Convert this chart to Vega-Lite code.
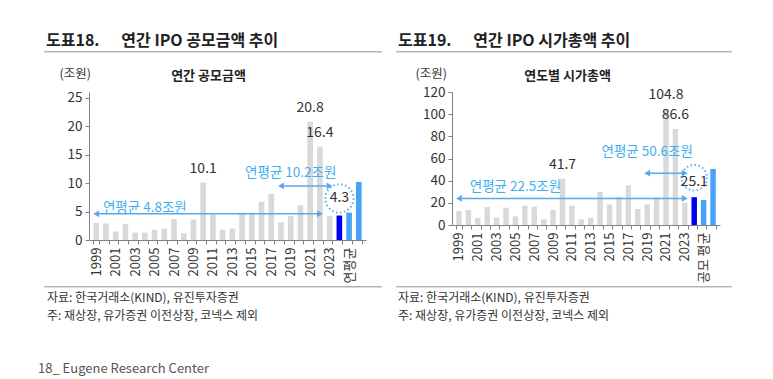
{
  "$schema": "https://vega.github.io/schema/vega-lite/v6.json",
  "padding": {"left": 38, "top": 32, "right": 5, "bottom": 0},
  "config": {
    "font": "Noto Sans CJK KR",
    "view": {"stroke": null},
    "axis": {"labelColor": "#333", "domainColor": "#808080", "tickColor": "#808080", "grid": false, "labelFont": "Noto Sans CJK KR"}
  },
  "title": {"text": "18_ Eugene Research Center", "orient": "bottom", "anchor": "start", "frame": "bounds", "fontSize": 13, "fontWeight": "normal", "color": "#555", "offset": 41},
  "datasets": {
    "ipo": [
      {"year": "1999", "value": 3.0, "kind": "연도"},
      {"year": "2000", "value": 2.9, "kind": "연도"},
      {"year": "2001", "value": 1.5, "kind": "연도"},
      {"year": "2002", "value": 2.8, "kind": "연도"},
      {"year": "2003", "value": 1.3, "kind": "연도"},
      {"year": "2004", "value": 1.3, "kind": "연도"},
      {"year": "2005", "value": 1.8, "kind": "연도"},
      {"year": "2006", "value": 2.0, "kind": "연도"},
      {"year": "2007", "value": 3.7, "kind": "연도"},
      {"year": "2008", "value": 1.2, "kind": "연도"},
      {"year": "2009", "value": 3.6, "kind": "연도"},
      {"year": "2010", "value": 10.1, "kind": "연도"},
      {"year": "2011", "value": 4.5, "kind": "연도"},
      {"year": "2012", "value": 1.8, "kind": "연도"},
      {"year": "2013", "value": 2.0, "kind": "연도"},
      {"year": "2014", "value": 4.8, "kind": "연도"},
      {"year": "2015", "value": 4.8, "kind": "연도"},
      {"year": "2016", "value": 6.7, "kind": "연도"},
      {"year": "2017", "value": 8.1, "kind": "연도"},
      {"year": "2018", "value": 3.1, "kind": "연도"},
      {"year": "2019", "value": 4.2, "kind": "연도"},
      {"year": "2020", "value": 6.1, "kind": "연도"},
      {"year": "2021", "value": 20.8, "kind": "연도"},
      {"year": "2022", "value": 16.4, "kind": "연도"},
      {"year": "2023", "value": 4.2, "kind": "연도"},
      {"year": "2024", "value": 4.3, "kind": "2024"},
      {"year": "연평균", "value": 4.8, "kind": "평균"},
      {"year": "최근5년", "value": 10.2, "kind": "평균"}
    ],
    "mcap": [
      {"year": "1999", "value": 12.6, "kind": "연도"},
      {"year": "2000", "value": 13.5, "kind": "연도"},
      {"year": "2001", "value": 6.3, "kind": "연도"},
      {"year": "2002", "value": 16.2, "kind": "연도"},
      {"year": "2003", "value": 6.9, "kind": "연도"},
      {"year": "2004", "value": 15.6, "kind": "연도"},
      {"year": "2005", "value": 7.8, "kind": "연도"},
      {"year": "2006", "value": 17.4, "kind": "연도"},
      {"year": "2007", "value": 16.5, "kind": "연도"},
      {"year": "2008", "value": 5.1, "kind": "연도"},
      {"year": "2009", "value": 13.8, "kind": "연도"},
      {"year": "2010", "value": 41.7, "kind": "연도"},
      {"year": "2011", "value": 17.4, "kind": "연도"},
      {"year": "2012", "value": 5.1, "kind": "연도"},
      {"year": "2013", "value": 6.6, "kind": "연도"},
      {"year": "2014", "value": 29.7, "kind": "연도"},
      {"year": "2015", "value": 18.6, "kind": "연도"},
      {"year": "2016", "value": 25.5, "kind": "연도"},
      {"year": "2017", "value": 35.7, "kind": "연도"},
      {"year": "2018", "value": 14.4, "kind": "연도"},
      {"year": "2019", "value": 18.6, "kind": "연도"},
      {"year": "2020", "value": 24.9, "kind": "연도"},
      {"year": "2021", "value": 104.8, "kind": "연도"},
      {"year": "2022", "value": 86.6, "kind": "연도"},
      {"year": "2023", "value": 20.1, "kind": "연도"},
      {"year": "2024", "value": 25.1, "kind": "2024"},
      {"year": "공모 평균", "value": 22.5, "kind": "평균"},
      {"year": "최근5년", "value": 50.6, "kind": "평균"}
    ],
    "ipoLabels": [
      {"year": "2010", "value": 10.1, "text": "10.1"},
      {"year": "2021", "value": 20.8, "text": "20.8"},
      {"year": "2022", "value": 16.4, "text": "16.4"}
    ],
    "mcapLabels": [
      {"year": "2010", "value": 41.7, "text": "41.7"},
      {"year": "2021", "value": 104.8, "text": "104.8"},
      {"year": "2022", "value": 86.6, "text": "86.6"}
    ],
    "ipoCircle": [{"year": "2024", "y": 7.3, "text": "4.3"}],
    "mcapCircle": [{"year": "2024", "y": 42.7, "text": "25.1"}],
    "ipoArrows": [
      {"from": "1999", "to": "2022", "y": 4.6},
      {"from": "2018", "to": "2023", "y": 9.5}
    ],
    "mcapArrows": [
      {"from": "1999", "to": "2023", "y": 24.0},
      {"from": "2019", "to": "2023", "y": 46.8}
    ],
    "ipoNotes": [
      {"year": "2004", "y": 5.7, "text": "연평균 4.8조원"},
      {"year": "2019", "y": 11.8, "text": "연평균 10.2조원"}
    ],
    "mcapNotes": [
      {"year": "2005", "y": 34.0, "text": "연평균 22.5조원"},
      {"year": "2019", "y": 66.0, "text": "연평균 50.6조원"}
    ]
  },
  "spacing": 0,
  "vconcat": [
    {
      "spacing": 12,
      "vconcat": [
        {
          "spacing": 13,
          "hconcat": [
            {
              "width": 337, "height": 0.5,
              "view": {"stroke": "#b4b4b4", "strokeWidth": 1},
              "data": {"values": [{}]},
              "mark": {"type": "point", "opacity": 0},
              "encoding": {},
              "title": {"text": "도표18.\u00a0\u00a0\u00a0\u00a0\u00a0 연간 IPO 공모금액 추이", "anchor": "start", "frame": "group", "fontSize": 16, "fontWeight": "bold", "color": "#222", "offset": 0, "dx": 2}
            },
            {
              "width": 335, "height": 0.5,
              "view": {"stroke": "#b4b4b4", "strokeWidth": 1},
              "data": {"values": [{}]},
              "mark": {"type": "point", "opacity": 0},
              "encoding": {},
              "title": {"text": "도표19.\u00a0\u00a0\u00a0\u00a0\u00a0 연간 IPO 시가총액 추이", "anchor": "start", "frame": "group", "fontSize": 16, "fontWeight": "bold", "color": "#222", "offset": 0, "dx": 2}
            }
          ]
        },
        {
          "spacing": 28,
          "hconcat": [
            {
              "width": 322, "height": 148,
              "resolve": {"axis": {"x": "independent", "y": "independent"}},
              "layer": [
                {
                  "data": {"name": "ipo"},
                  "mark": {"type": "bar"},
                  "encoding": {
                    "x": {"field": "year", "type": "ordinal",
                      "scale": {"domain": ["1999","2000","2001","2002","2003","2004","2005","2006","2007","2008","2009","2010","2011","2012","2013","2014","2015","2016","2017","2018","2019","2020","2021","2022","2023","2024","연평균","최근5년"], "range": [45, 322], "paddingInner": 0.42, "paddingOuter": 0.45},
                      "axis": {"title": null, "labelAngle": -90, "labelAlign": "right", "labelBaseline": "middle", "labelFontSize": 13, "labelPadding": 3, "tickBand": "extent", "tickSize": 4, "labelOverlap": false,
                        "labelExpr": "isNaN(toNumber(datum.value)) ? (datum.value == '최근5년' ? '' : datum.label) : (toNumber(datum.value) % 2 == 1 ? datum.label : '')"}},
                    "y": {"field": "value", "type": "quantitative", "scale": {"domain": [0, 25]},
                      "axis": {"values": [0, 5, 10, 15, 20, 25], "offset": -45, "title": "(조원)", "titleAngle": 0, "titleAlign": "left", "titleBaseline": "middle", "titleX": -30, "titleY": -19, "titleFontSize": 12.5, "titleFontWeight": "normal", "titleColor": "#333", "labelFontSize": 13.5, "tickSize": 4, "labelPadding": 3}},
                    "color": {"field": "kind", "type": "nominal", "scale": {"domain": ["연도", "2024", "평균"], "range": ["#d9d9d9", "#0000ee", "#47a3f7"]}, "legend": null}
                  }
                },
                {
                  "data": {"name": "ipoCircle"},
                  "mark": {"type": "point", "shape": "circle", "size": 800, "filled": true, "fill": "white", "fillOpacity": 1, "stroke": "#5ab0f0", "strokeOpacity": 1, "strokeWidth": 2, "strokeDash": [1.5, 2.5]},
                  "encoding": {"x": {"field": "year", "type": "ordinal", "axis": null}, "y": {"field": "y", "type": "quantitative", "axis": null}}
                },
                {
                  "data": {"name": "ipoCircle"},
                  "mark": {"type": "text", "fontSize": 14, "color": "#333", "baseline": "middle"},
                  "encoding": {"x": {"field": "year", "type": "ordinal", "axis": null}, "y": {"field": "y", "type": "quantitative", "axis": null}, "text": {"field": "text"}}
                },
                {
                  "data": {"name": "ipoArrows"},
                  "mark": {"type": "rule", "color": "#5aa9ee", "strokeWidth": 1.5},
                  "encoding": {"x": {"field": "from", "type": "ordinal", "axis": null}, "x2": {"field": "to"}, "y": {"field": "y", "type": "quantitative", "axis": null}}
                },
                {
                  "data": {"name": "ipoArrows"},
                  "mark": {"type": "point", "shape": "triangle-left", "size": 45, "filled": true, "color": "#5aa9ee", "opacity": 1},
                  "encoding": {"x": {"field": "from", "type": "ordinal", "axis": null}, "y": {"field": "y", "type": "quantitative", "axis": null}}
                },
                {
                  "data": {"name": "ipoArrows"},
                  "mark": {"type": "point", "shape": "triangle-right", "size": 45, "filled": true, "color": "#5aa9ee", "opacity": 1},
                  "encoding": {"x": {"field": "to", "type": "ordinal", "axis": null}, "y": {"field": "y", "type": "quantitative", "axis": null}}
                },
                {
                  "data": {"name": "ipoNotes"},
                  "mark": {"type": "text", "fontSize": 13.5, "color": "#3fb0ee", "baseline": "middle"},
                  "encoding": {"x": {"field": "year", "type": "ordinal", "axis": null}, "y": {"field": "y", "type": "quantitative", "axis": null}, "text": {"field": "text"}}
                },
                {
                  "data": {"name": "ipoLabels"},
                  "mark": {"type": "text", "fontSize": 14, "color": "#333", "baseline": "middle", "dy": -14},
                  "encoding": {
                    "x": {"field": "year", "type": "ordinal", "axis": {"orient": "top", "title": "연간 공모금액", "titleX": 164, "titleY": -17, "titleAlign": "center", "titleBaseline": "middle", "titleFontSize": 13, "titleFontWeight": "bold", "titleColor": "#222", "labels": false, "ticks": false, "domain": false}},
                    "y": {"field": "value", "type": "quantitative", "axis": null},
                    "text": {"field": "text"}
                  }
                }
              ]
            },
            {
              "width": 320, "height": 133,
              "resolve": {"axis": {"x": "independent", "y": "independent"}},
              "layer": [
                {
                  "data": {"name": "mcap"},
                  "mark": {"type": "bar"},
                  "encoding": {
                    "x": {"field": "year", "type": "ordinal",
                      "scale": {"domain": ["1999","2000","2001","2002","2003","2004","2005","2006","2007","2008","2009","2010","2011","2012","2013","2014","2015","2016","2017","2018","2019","2020","2021","2022","2023","2024","공모 평균","최근5년"], "range": [52, 320], "paddingInner": 0.42, "paddingOuter": 0.45},
                      "axis": {"title": null, "labelAngle": -90, "labelAlign": "right", "labelBaseline": "middle", "labelFontSize": 13, "labelPadding": 3, "tickBand": "extent", "tickSize": 4, "labelOverlap": false,
                        "labelExpr": "isNaN(toNumber(datum.value)) ? (datum.value == '최근5년' ? '' : datum.label) : (toNumber(datum.value) % 2 == 1 ? datum.label : '')"}},
                    "y": {"field": "value", "type": "quantitative", "scale": {"domain": [0, 120]},
                      "axis": {"values": [0, 20, 40, 60, 80, 100, 120], "offset": -52, "title": "(조원)", "titleAngle": 0, "titleAlign": "left", "titleBaseline": "middle", "titleX": -37, "titleY": -19, "titleFontSize": 12.5, "titleFontWeight": "normal", "titleColor": "#333", "labelFontSize": 13.5, "tickSize": 4, "labelPadding": 3}},
                    "color": {"field": "kind", "type": "nominal", "scale": {"domain": ["연도", "2024", "평균"], "range": ["#d9d9d9", "#0000ee", "#47a3f7"]}, "legend": null}
                  }
                },
                {
                  "data": {"name": "mcapCircle"},
                  "mark": {"type": "point", "shape": "circle", "size": 650, "filled": true, "fill": "white", "fillOpacity": 1, "stroke": "#5ab0f0", "strokeOpacity": 1, "strokeWidth": 2, "strokeDash": [1.5, 2.5]},
                  "encoding": {"x": {"field": "year", "type": "ordinal", "axis": null}, "y": {"field": "y", "type": "quantitative", "axis": null}}
                },
                {
                  "data": {"name": "mcapCircle"},
                  "mark": {"type": "text", "fontSize": 14, "color": "#333", "baseline": "middle", "dy": 4},
                  "encoding": {"x": {"field": "year", "type": "ordinal", "axis": null}, "y": {"field": "y", "type": "quantitative", "axis": null}, "text": {"field": "text"}}
                },
                {
                  "data": {"name": "mcapArrows"},
                  "mark": {"type": "rule", "color": "#5aa9ee", "strokeWidth": 1.5},
                  "encoding": {"x": {"field": "from", "type": "ordinal", "axis": null}, "x2": {"field": "to"}, "y": {"field": "y", "type": "quantitative", "axis": null}}
                },
                {
                  "data": {"name": "mcapArrows"},
                  "mark": {"type": "point", "shape": "triangle-left", "size": 45, "filled": true, "color": "#5aa9ee", "opacity": 1},
                  "encoding": {"x": {"field": "from", "type": "ordinal", "axis": null}, "y": {"field": "y", "type": "quantitative", "axis": null}}
                },
                {
                  "data": {"name": "mcapArrows"},
                  "mark": {"type": "point", "shape": "triangle-right", "size": 45, "filled": true, "color": "#5aa9ee", "opacity": 1},
                  "encoding": {"x": {"field": "to", "type": "ordinal", "axis": null}, "y": {"field": "y", "type": "quantitative", "axis": null}}
                },
                {
                  "data": {"name": "mcapNotes"},
                  "mark": {"type": "text", "fontSize": 13.5, "color": "#3fb0ee", "baseline": "middle"},
                  "encoding": {"x": {"field": "year", "type": "ordinal", "axis": null}, "y": {"field": "y", "type": "quantitative", "axis": null}, "text": {"field": "text"}}
                },
                {
                  "data": {"name": "mcapLabels"},
                  "mark": {"type": "text", "fontSize": 14, "color": "#333", "baseline": "middle", "dy": -14},
                  "encoding": {
                    "x": {"field": "year", "type": "ordinal", "axis": {"orient": "top", "title": "연도별 시가총액", "titleX": 167, "titleY": -17, "titleAlign": "center", "titleBaseline": "middle", "titleFontSize": 13, "titleFontWeight": "bold", "titleColor": "#222", "labels": false, "ticks": false, "domain": false}},
                    "y": {"field": "value", "type": "quantitative", "axis": null},
                    "text": {"field": "text"}
                  }
                }
              ]
            }
          ]
        }
      ]
    },
    {
      "spacing": 13,
      "hconcat": [
        {
          "width": 337, "height": 0.5,
          "view": {"stroke": "#b4b4b4", "strokeWidth": 1},
          "data": {"values": [{}]},
          "mark": {"type": "point", "opacity": 0},
          "encoding": {},
          "title": {"text": ["자료: 한국거래소(KIND), 유진투자증권", "주: 재상장, 유가증권 이전상장, 코넥스 제외"], "orient": "bottom", "anchor": "start", "frame": "group", "fontSize": 12, "fontWeight": "normal", "color": "#333", "lineHeight": 18, "offset": 4, "dx": 3}
        },
        {
          "width": 335, "height": 0.5,
          "view": {"stroke": "#b4b4b4", "strokeWidth": 1},
          "data": {"values": [{}]},
          "mark": {"type": "point", "opacity": 0},
          "encoding": {},
          "title": {"text": ["자료: 한국거래소(KIND), 유진투자증권", "주: 재상장, 유가증권 이전상장, 코넥스 제외"], "orient": "bottom", "anchor": "start", "frame": "group", "fontSize": 12, "fontWeight": "normal", "color": "#333", "lineHeight": 18, "offset": 4, "dx": 2}
        }
      ]
    }
  ]
}
